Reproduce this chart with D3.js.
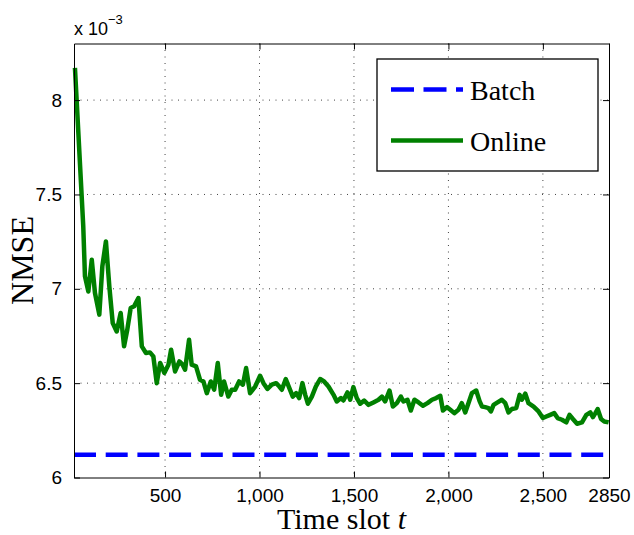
<!DOCTYPE html>
<html>
<head>
<meta charset="utf-8">
<script src="https://cdn.jsdelivr.net/npm/d3@7"></script>
<style>
  body { margin: 0; background: #fff; }
  .axis text { font-family: "Liberation Sans", Arial, sans-serif; font-size: 19px; fill: #000; }
  .axis path, .axis line { stroke: #000; stroke-width: 1; }
</style>
</head>
<body>
<div id="chart"></div>
<script>
// Time slots of the online curve
var timeSlots = [23, 67, 76, 94, 112, 129, 152, 168, 187, 205, 223, 244, 265, 283, 300, 318, 336, 359,
  377, 399, 420, 438, 456, 474, 496, 518, 532, 553, 576, 593, 606, 627, 641, 664, 685, 703, 721, 742,
  760, 779, 797, 812, 835, 853, 871, 892, 912, 929, 950, 977, 1003, 1021, 1042, 1065, 1088, 1105,
  1118, 1139, 1158, 1176, 1194, 1210, 1227, 1242, 1256, 1277, 1298, 1321, 1342, 1365, 1392, 1409,
  1431, 1444, 1466, 1480, 1497, 1515, 1533, 1554, 1577, 1603, 1630, 1648, 1665, 1688, 1706, 1727,
  1748, 1762, 1783, 1801, 1820, 1842, 1865, 1889, 1913, 1935, 1957, 1971, 1992, 2010, 2031, 2053,
  2071, 2089, 2106, 2124, 2147, 2165, 2178, 2195, 2212, 2225, 2239, 2260, 2283, 2301, 2318, 2336,
  2359, 2377, 2389, 2407, 2424, 2451, 2477, 2500, 2518, 2539, 2560, 2578, 2601, 2624, 2641, 2659,
  2681, 2707, 2730, 2751, 2765, 2778, 2790, 2808, 2825, 2848];

// Online NMSE (x 10^-3)
var onlineNmse = [8.171, 7.331, 7.066, 6.986, 7.154, 6.978, 6.863, 7.119, 7.251, 7.013, 6.819, 6.774,
  6.872, 6.695, 6.783, 6.898, 6.907, 6.951, 6.695, 6.660, 6.663, 6.642, 6.500, 6.607, 6.554, 6.598,
  6.677, 6.562, 6.615, 6.598, 6.571, 6.730, 6.598, 6.589, 6.518, 6.509, 6.447, 6.509, 6.465, 6.607,
  6.438, 6.509, 6.429, 6.465, 6.465, 6.509, 6.492, 6.580, 6.447, 6.482, 6.539, 6.500, 6.469, 6.492,
  6.500, 6.482, 6.465, 6.522, 6.474, 6.429, 6.447, 6.421, 6.500, 6.438, 6.391, 6.429, 6.482, 6.522,
  6.509, 6.482, 6.438, 6.403, 6.421, 6.408, 6.451, 6.412, 6.479, 6.421, 6.391, 6.408, 6.385, 6.398,
  6.412, 6.429, 6.403, 6.461, 6.376, 6.394, 6.429, 6.403, 6.412, 6.355, 6.412, 6.398, 6.380, 6.394,
  6.412, 6.421, 6.433, 6.355, 6.373, 6.359, 6.341, 6.359, 6.394, 6.345, 6.394, 6.447, 6.461, 6.405,
  6.376, 6.373, 6.368, 6.350, 6.385, 6.398, 6.412, 6.394, 6.345, 6.363, 6.368, 6.438, 6.412, 6.444,
  6.394, 6.376, 6.350, 6.315, 6.323, 6.332, 6.341, 6.315, 6.306, 6.292, 6.332, 6.310, 6.285, 6.292,
  6.332, 6.345, 6.320, 6.341, 6.363, 6.310, 6.297, 6.292];

// Batch NMSE is a constant level
var batchNmse = 6.12;

// Tick values and labels
var xTicks = [500, 1000, 1500, 2000, 2500, 2850];
var xTickLabels = ["500", "1,000", "1,500", "2,000", "2,500", "2850"];
var yTicks = [6, 6.5, 7, 7.5, 8];
var yTickLabels = ["6", "6.5", "7", "7.5", "8"];

var legendNames = ["Batch", "Online"];

// SVG area
var svgWidth = 634;
var svgHeight = 535;

var margin = { top: 43.5, right: 25, bottom: 57.5, left: 74 };

var chartWidth = svgWidth - margin.left - margin.right;
var chartHeight = svgHeight - margin.top - margin.bottom;

var svg = d3.select("#chart")
  .append("svg")
  .attr("width", svgWidth)
  .attr("height", svgHeight);

var chartGroup = svg.append("g")
  .attr("transform", `translate(${margin.left}, ${margin.top})`);

// Scales
var xScale = d3.scaleLinear()
  .domain([18, 2850])
  .range([0, chartWidth]);

var yScale = d3.scaleLinear()
  .domain([6, 8.3])
  .range([chartHeight, 0]);

// Dotted grid lines
chartGroup.append("g")
  .selectAll("line")
  .data(xTicks.slice(0, 5))
  .enter()
  .append("line")
  .attr("x1", d => xScale(d))
  .attr("x2", d => xScale(d))
  .attr("y1", 0)
  .attr("y2", chartHeight)
  .attr("stroke", "#444")
  .attr("stroke-width", 1)
  .attr("stroke-dasharray", "1,5.5");

chartGroup.append("g")
  .selectAll("line")
  .data(yTicks.slice(1))
  .enter()
  .append("line")
  .attr("x1", 0)
  .attr("x2", chartWidth)
  .attr("y1", d => yScale(d))
  .attr("y2", d => yScale(d))
  .attr("stroke", "#444")
  .attr("stroke-width", 1)
  .attr("stroke-dasharray", "1,5.5");

// Batch line (dashed blue)
chartGroup.append("line")
  .attr("x1", xScale(18))
  .attr("x2", xScale(2850))
  .attr("y1", yScale(batchNmse))
  .attr("y2", yScale(batchNmse))
  .attr("stroke", "#0000ff")
  .attr("stroke-width", 4.5)
  .attr("stroke-dasharray", "22,9.7");

// Online line (solid green)
var onlineLine = d3.line()
  .x((d, i) => xScale(timeSlots[i]))
  .y(d => yScale(d));

chartGroup.append("path")
  .datum(onlineNmse)
  .attr("d", onlineLine)
  .attr("fill", "none")
  .attr("stroke", "#008000")
  .attr("stroke-width", 4.5)
  .attr("stroke-linejoin", "round");

// Axes, ticks pointing inward on all four sides
chartGroup.append("g")
  .classed("axis", true)
  .attr("transform", `translate(0, ${chartHeight})`)
  .call(d3.axisBottom(xScale).tickValues(xTicks)
    .tickSizeInner(-6).tickSizeOuter(0).tickPadding(11)
    .tickFormat((d, i) => xTickLabels[i]));

chartGroup.append("g")
  .classed("axis", true)
  .call(d3.axisTop(xScale).tickValues(xTicks)
    .tickSizeInner(-6).tickSizeOuter(0).tickFormat(""));

chartGroup.append("g")
  .classed("axis", true)
  .call(d3.axisLeft(yScale).tickValues(yTicks)
    .tickSizeInner(-6).tickSizeOuter(0).tickPadding(12)
    .tickFormat((d, i) => yTickLabels[i]));

chartGroup.append("g")
  .classed("axis", true)
  .attr("transform", `translate(${chartWidth}, 0)`)
  .call(d3.axisRight(yScale).tickValues(yTicks)
    .tickSizeInner(-6).tickSizeOuter(0).tickFormat(""));

// Exponent label above the y axis
var expText = svg.append("text")
  .attr("x", margin.left)
  .attr("y", 35)
  .attr("font-family", "Liberation Sans, Arial, sans-serif")
  .attr("font-size", "18px");
expText.append("tspan").text("x 10");
expText.append("tspan")
  .attr("font-size", "13px")
  .attr("dy", "-11")
  .text("\u22123");

// Axis titles
svg.append("text")
  .attr("transform", `translate(33, ${margin.top + chartHeight / 2}) rotate(-90)`)
  .attr("text-anchor", "middle")
  .attr("font-family", "Liberation Serif, serif")
  .attr("font-size", "32px")
  .text("NMSE");

var xTitle = svg.append("text")
  .attr("x", margin.left + chartWidth / 2)
  .attr("y", 529)
  .attr("text-anchor", "middle")
  .attr("font-family", "Liberation Serif, serif")
  .attr("font-size", "30px");
xTitle.append("tspan").text("Time slot ");
xTitle.append("tspan").attr("font-style", "italic").text("t");

// Legend
var legend = svg.append("g");

legend.append("rect")
  .attr("x", 377)
  .attr("y", 59)
  .attr("width", 221)
  .attr("height", 112)
  .attr("fill", "#fff")
  .attr("stroke", "#000")
  .attr("stroke-width", 1.3);

var legendRows = legend.selectAll(".row")
  .data(legendNames)
  .enter()
  .append("g")
  .attr("transform", (d, i) => `translate(0, ${89.5 + i * 51})`);

legendRows.append("line")
  .attr("x1", 391)
  .attr("x2", 463)
  .attr("stroke", (d, i) => i === 0 ? "#0000ff" : "#008000")
  .attr("stroke-width", 4.5)
  .attr("stroke-dasharray", (d, i) => i === 0 ? "23,9.5" : null);

legendRows.append("text")
  .attr("x", 470)
  .attr("y", 10)
  .attr("font-family", "Liberation Serif, serif")
  .attr("font-size", "28px")
  .text(d => d);
</script>
</body>
</html>
